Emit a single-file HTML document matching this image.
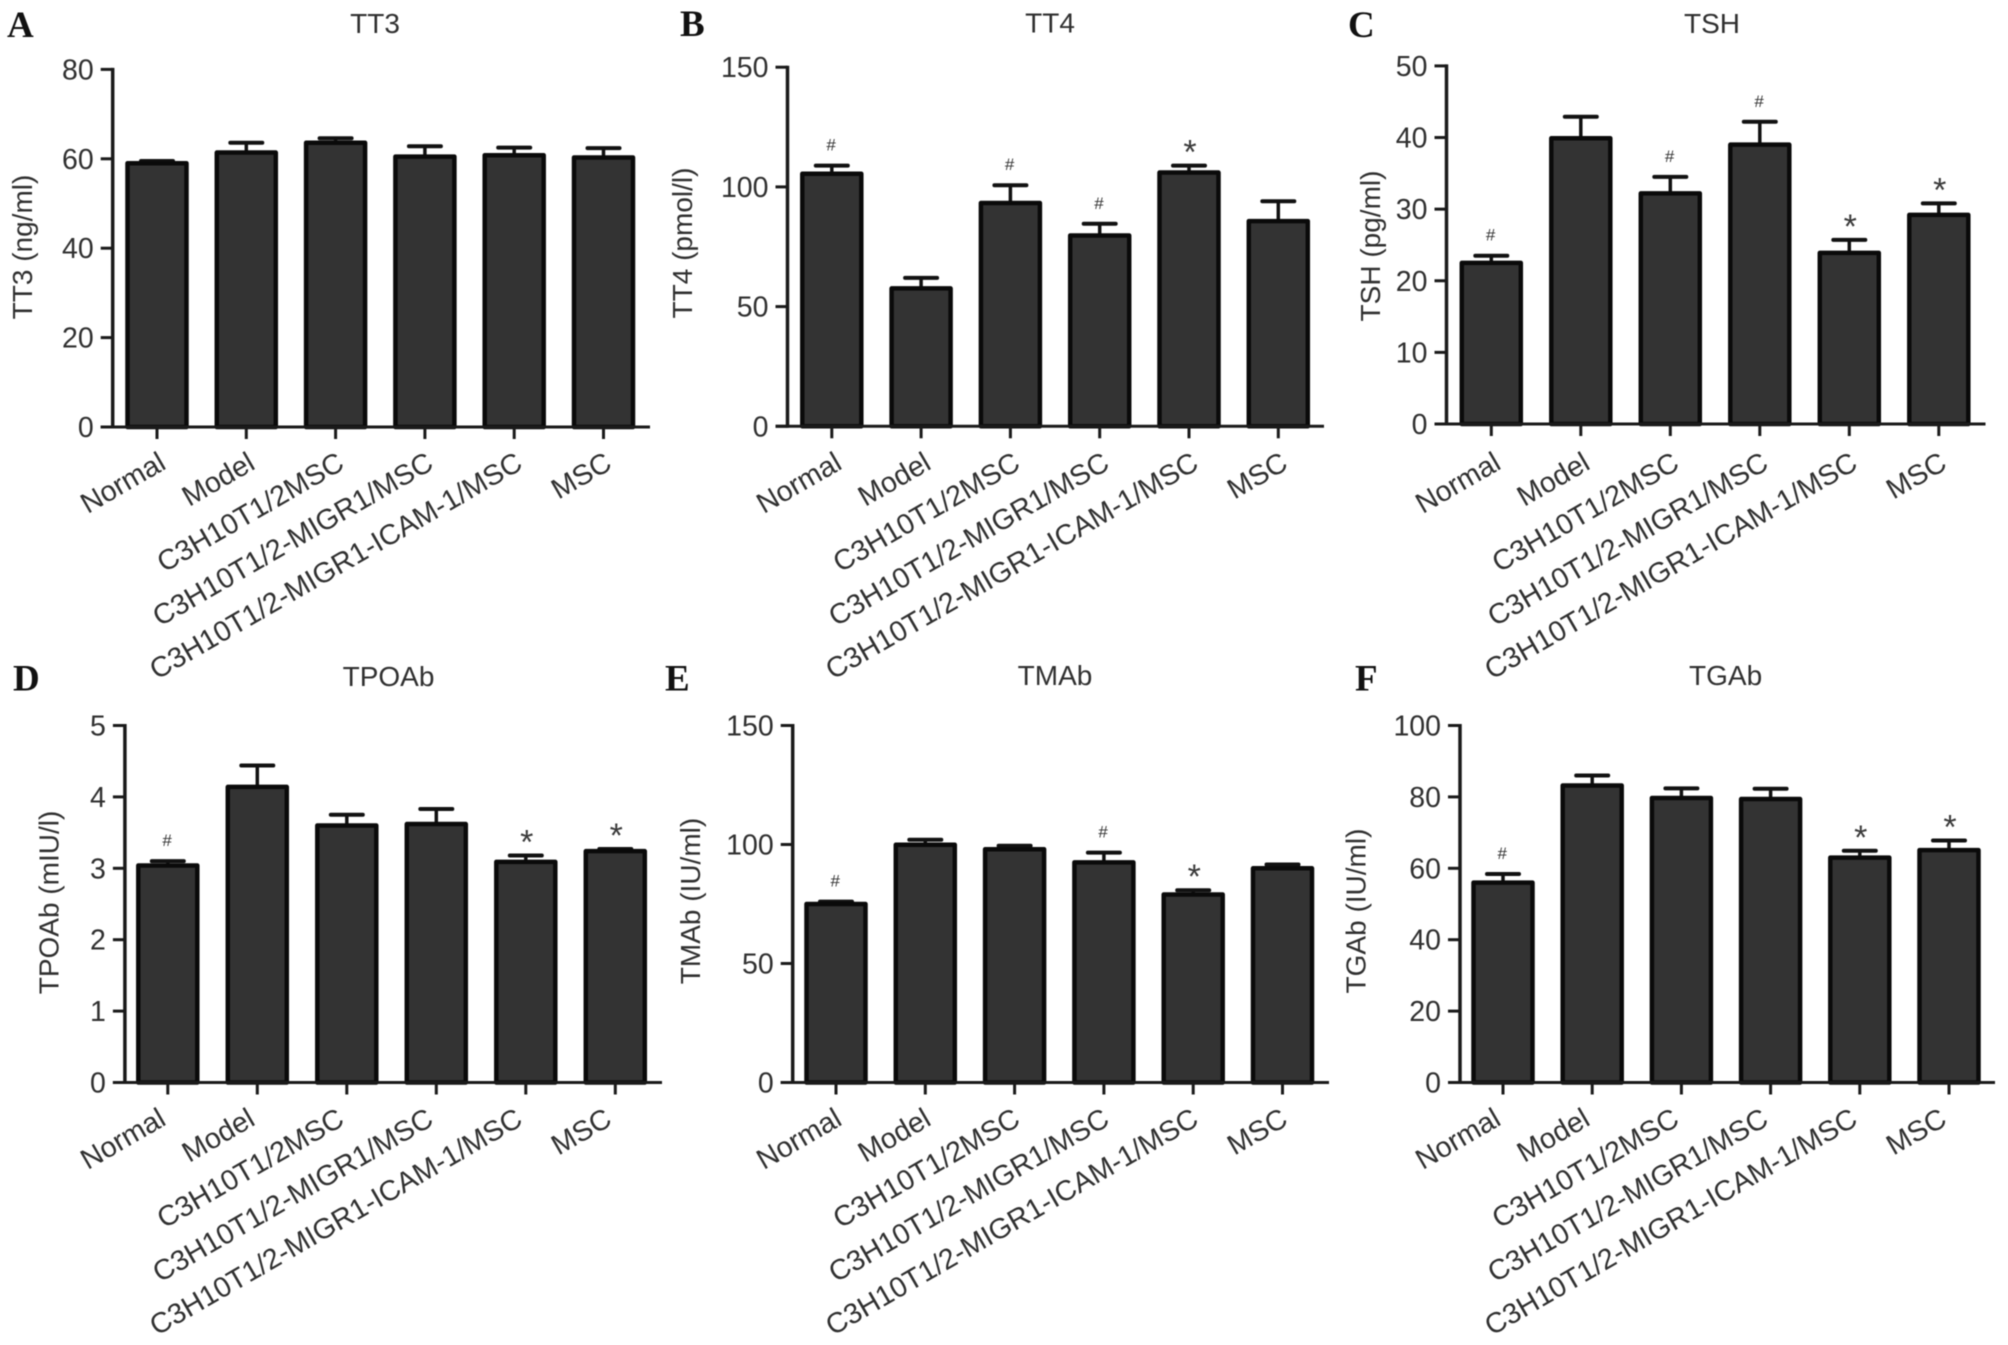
<!DOCTYPE html>
<html lang="en">
<head>
<meta charset="utf-8">
<title>Thyroid hormone and antibody bar charts</title>
<style>
html,body{margin:0;padding:0;background:#fff;width:2008px;height:1345px;overflow:hidden}
svg{display:block;filter:blur(0.6px)}
text{font-family:"Liberation Sans",sans-serif;fill:#303030}
</style>
</head>
<body>
<svg id="figure" xmlns="http://www.w3.org/2000/svg" width="2008" height="1345" viewBox="0 0 2008 1345"></svg>
<script>
const categories = ['Normal', 'Model', 'C3H10T1/2MSC', 'C3H10T1/2-MIGR1/MSC', 'C3H10T1/2-MIGR1-ICAM-1/MSC', 'MSC'];

const tt3Ticks = [0, 20, 40, 60, 80];
const tt3Values = [59, 61.4, 63.6, 60.5, 60.8, 60.3];
const tt3Errors = [0.5, 2.2, 1, 2.3, 1.7, 2.1];
const tt3Marks = ['', '', '', '', '', ''];

const tt4Ticks = [0, 50, 100, 150];
const tt4Values = [105.5, 57.6, 93.3, 79.7, 106, 85.7];
const tt4Errors = [3.4, 4.4, 7.4, 4.9, 2.9, 8.3];
const tt4Marks = ['#', '', '#', '#', '*', ''];

const tshTicks = [0, 10, 20, 30, 40, 50];
const tshValues = [22.5, 39.9, 32.2, 39, 23.9, 29.2];
const tshErrors = [1, 3, 2.3, 3.2, 1.8, 1.6];
const tshMarks = ['#', '', '#', '#', '*', '*'];

const tpoTicks = [0, 1, 2, 3, 4, 5];
const tpoValues = [3.04, 4.14, 3.6, 3.62, 3.09, 3.24];
const tpoErrors = [0.06, 0.3, 0.15, 0.21, 0.09, 0.03];
const tpoMarks = ['#', '', '', '', '*', '*'];

const tmaTicks = [0, 50, 100, 150];
const tmaValues = [75, 99.9, 98, 92.5, 79, 90];
const tmaErrors = [1, 2.1, 1.5, 4.1, 1.8, 1.6];
const tmaMarks = ['#', '', '', '#', '*', ''];

const tgaTicks = [0, 20, 40, 60, 80, 100];
const tgaValues = [56, 83.2, 79.7, 79.4, 63, 65.1];
const tgaErrors = [2.4, 2.8, 2.7, 2.9, 1.9, 2.7];
const tgaMarks = ['#', '', '', '', '*', '*'];

const SVG_NS = 'http://www.w3.org/2000/svg';
const root = document.getElementById('figure');

function make(tag, parent, props, content) {
  const el = document.createElementNS(SVG_NS, tag);
  for (const key in props) el.setAttribute(key, props[key]);
  if (content !== undefined) el.textContent = content;
  parent.appendChild(el);
  return el;
}

function drawPanel(o) {
  const maxTick = o.ticks[o.ticks.length - 1];
  const yScale = v => o.base - (v / maxTick) * (o.base - o.top);
  const xScale = i => o.first + o.step * i;

  const g = make('g', root, {});
  
  

  const letter = make('text', g, {x: o.letterX, y: o.letterY, 'font-size': 37, 'font-weight': 'bold', style: 'font-family:"Liberation Serif",serif;fill:#111'}, o.letter);
  
  

  const title = make('text', g, {x: o.titleX, y: o.titleY, 'font-size': 28, 'text-anchor': 'middle'}, o.title);
  
  

  const yTitle = make('text', g, {x: o.yTitleX, y: o.yTitleY, 'font-size': 28, 'text-anchor': 'middle', transform: 'rotate(-90 ' + o.yTitleX + ' ' + o.yTitleY + ')'}, o.yLabel);
  
  

  o.values.forEach((value, i) => {
    const cx = xScale(i);
    const yTop = yScale(value);
    const yErr = yScale(value + o.errors[i]);

    const stem = make('line', g, {x1: cx, x2: cx, y1: yTop, y2: yErr, stroke: '#111', 'stroke-width': 3.5});
    
    

    const cap = make('line', g, {x1: cx - 16, x2: cx + 16, y1: yErr, y2: yErr, stroke: '#111', 'stroke-width': 4, 'stroke-linecap': 'round'});
    
    

    const bar = make('rect', g, {x: cx - 29.5, y: yTop, width: 59, height: o.base - yTop, fill: '#333', stroke: '#0a0a0a', 'stroke-width': 4.5, 'stroke-linejoin': 'round'});
    
    

    if (o.marks[i] === '#') {
      const hash = make('text', g, {x: cx - 1, y: yErr - 15, 'font-size': 17, 'font-style': 'italic', 'text-anchor': 'middle', style: 'fill:#333'}, '#');
      
      
    } else if (o.marks[i] === '*') {
      const star = make('text', g, {x: cx + 1, y: yErr - 2, 'font-size': 34, 'text-anchor': 'middle', style: 'fill:#3a3a3a'}, '*');
      
      
    }

    const tick = make('line', g, {x1: cx, x2: cx, y1: o.base, y2: o.base + 12, stroke: '#1a1a1a', 'stroke-width': 3});
    
    

    const lx = o.labelX + 89.2 * i;
    const ly = o.labelY;
    const label = make('text', g, {x: lx, y: ly, 'font-size': 28.6, 'text-anchor': 'end', transform: 'rotate(-30 ' + lx + ' ' + ly + ')'}, categories[i]);
    
    
  });

  o.ticks.forEach(t => {
    const y = yScale(t);
    const tick = make('line', g, {x1: o.axisX - 12, x2: o.axisX, y1: y, y2: y, stroke: '#1a1a1a', 'stroke-width': 3});
    
    

    const label = make('text', g, {x: o.axisX - 19, y: y + 10, 'font-size': 28.5, 'text-anchor': 'end'}, String(t));
    
    
  });

  const yAxis = make('line', g, {x1: o.axisX, x2: o.axisX, y1: o.top - 1.5, y2: o.base + 1.5, stroke: '#1a1a1a', 'stroke-width': 3.5});
  
  

  const xAxis = make('line', g, {x1: o.axisX - 12, x2: o.axisEnd, y1: o.base, y2: o.base, stroke: '#1a1a1a', 'stroke-width': 3});
  
  
}

drawPanel({letter: 'A', letterX: 7, letterY: 37, title: 'TT3', titleX: 375, titleY: 33, yLabel: 'TT3 (ng/ml)', yTitleX: 32, yTitleY: 247,
  axisX: 112.7, axisEnd: 650, top: 69.4, base: 427, first: 157, step: 89.3, labelX: 167.5, labelY: 468,
  ticks: tt3Ticks, values: tt3Values, errors: tt3Errors, marks: tt3Marks});

drawPanel({letter: 'B', letterX: 680, letterY: 36, title: 'TT4', titleX: 1050, titleY: 32.5, yLabel: 'TT4 (pmol/l)', yTitleX: 692, yTitleY: 243,
  axisX: 787.5, axisEnd: 1324, top: 67.2, base: 426.3, first: 831.8, step: 89.3, labelX: 843.5, labelY: 468,
  ticks: tt4Ticks, values: tt4Values, errors: tt4Errors, marks: tt4Marks});

drawPanel({letter: 'C', letterX: 1348, letterY: 37, title: 'TSH', titleX: 1712, titleY: 33, yLabel: 'TSH (pg/ml)', yTitleX: 1380, yTitleY: 246,
  axisX: 1446.5, axisEnd: 1985.5, top: 65.9, base: 424, first: 1491.3, step: 89.5, labelX: 1502.5, labelY: 468,
  ticks: tshTicks, values: tshValues, errors: tshErrors, marks: tshMarks});

drawPanel({letter: 'D', letterX: 13, letterY: 690.5, title: 'TPOAb', titleX: 388.5, titleY: 686, yLabel: 'TPOAb (mIU/l)', yTitleX: 58.5, yTitleY: 902.5,
  axisX: 124.9, axisEnd: 662, top: 725.5, base: 1082.5, first: 167.8, step: 89.5, labelX: 167.5, labelY: 1124,
  ticks: tpoTicks, values: tpoValues, errors: tpoErrors, marks: tpoMarks});

drawPanel({letter: 'E', letterX: 665, letterY: 690.5, title: 'TMAb', titleX: 1055, titleY: 685, yLabel: 'TMAb (IU/ml)', yTitleX: 700, yTitleY: 901,
  axisX: 792.7, axisEnd: 1329, top: 725.5, base: 1082.5, first: 836, step: 89.3, labelX: 843.5, labelY: 1124,
  ticks: tmaTicks, values: tmaValues, errors: tmaErrors, marks: tmaMarks});

drawPanel({letter: 'F', letterX: 1355, letterY: 690.5, title: 'TGAb', titleX: 1725.6, titleY: 685, yLabel: 'TGAb (IU/ml)', yTitleX: 1365.6, yTitleY: 911,
  axisX: 1460, axisEnd: 1995, top: 725.5, base: 1082.5, first: 1503, step: 89.2, labelX: 1502.5, labelY: 1124,
  ticks: tgaTicks, values: tgaValues, errors: tgaErrors, marks: tgaMarks});
</script>
</body>
</html>
